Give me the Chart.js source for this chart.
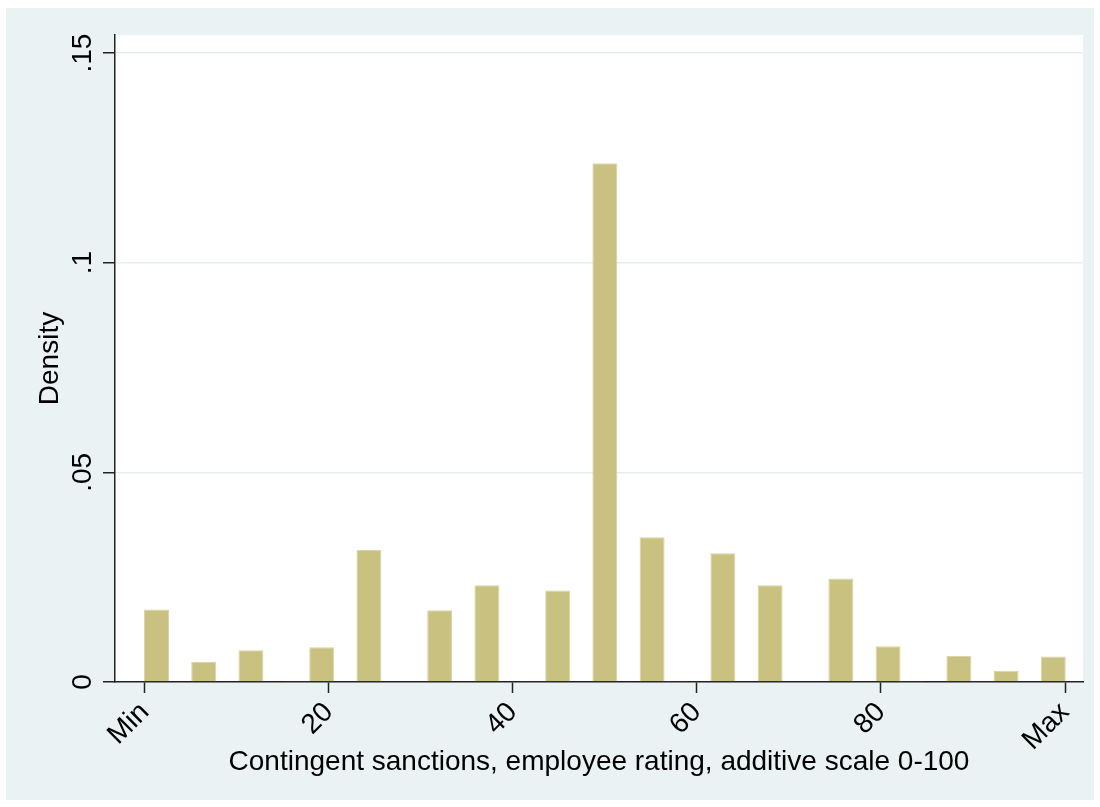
<!DOCTYPE html>
<html>
<head>
<meta charset="utf-8">
<script src="https://cdn.jsdelivr.net/npm/chart.js@4"></script>
<style>
  html, body { margin: 0; padding: 0; background: #fff; }
  #frame { position: absolute; left: 6px; top: 8px; width: 1088px; height: 792px; background: #eaf2f3; }
  #wrap { position: absolute; left: 0; top: 0; width: 1100px; height: 807px; }
</style>
</head>
<body>
<div id="frame"></div>
<div id="wrap"><canvas id="hist"></canvas></div>
<script>
// histogram bins (midpoints on the 0-100 scale) and their densities
const binMid = [1.28, 6.41, 11.54, 16.67, 19.23, 24.36, 32.05, 37.18, 42.31, 44.87, 50.00,
                55.13, 57.69, 62.82, 67.95, 75.64, 80.77, 83.33, 88.46, 91.03, 93.59, 98.72];
const density = [0.0173, 0.0048, 0.0076, 0.0003, 0.0083, 0.0315, 0.0171, 0.0231, 0.0003, 0.0218, 0.1237,
                 0.0345, 0.0003, 0.0307, 0.0231, 0.0247, 0.0085, 0.0003, 0.0062, 0.0003, 0.0027, 0.0061];

const xTickValues = [0, 20, 40, 60, 80, 100];
const xTickLabels = ['Min', '20', '40', '60', '80', 'Max'];
const yTickValues = [0, 0.05, 0.1, 0.15];
const yTickLabels = ['0', '.05', '.1', '.15'];

const FONT = "'Liberation Sans', Arial, Helvetica, sans-serif";
Chart.defaults.font.family = FONT;
Chart.defaults.color = '#000';

// white plot region inside the light frame
const plotBg = {
  id: 'plotBg',
  beforeDraw(chart) {
    const { ctx, chartArea: a } = chart;
    ctx.save();
    ctx.fillStyle = '#fff';
    ctx.fillRect(a.left, a.top, a.right - a.left, a.bottom - a.top);
    ctx.restore();
  }
};

new Chart(document.getElementById('hist'), {
  type: 'bar',
  data: {
    datasets: [{
      data: binMid.map((x, i) => ({ x: x, y: density[i] })),
      backgroundColor: '#c9c17f',
      borderColor: '#d9d4a4',
      borderWidth: 1,
      borderSkipped: 'bottom',
      barPercentage: 1.06,
      categoryPercentage: 1
    }]
  },
  options: {
    responsive: true,
    maintainAspectRatio: false,
    animation: false,
    layout: { padding: { top: 35, right: 17, left: 0, bottom: 0 } },
    plugins: { legend: { display: false }, tooltip: { enabled: false } },
    scales: {
      x: {
        type: 'linear',
        min: -3.23,
        max: 101.95,
        offset: false,
        afterBuildTicks: s => { s.ticks = xTickValues.map(v => ({ value: v })); },
        afterFit: s => { s.height = 125; },
        grid: { offset: false, drawOnChartArea: false, drawTicks: true, tickLength: 11, tickColor: '#222', tickWidth: 1.5 },
        border: { color: '#222', width: 1.5 },
        ticks: {
          autoSkip: false,
          minRotation: 45,
          maxRotation: 45,
          padding: 3,
          font: { size: 28 },
          callback: (v) => xTickLabels[xTickValues.indexOf(v)]
        },
        title: {
          display: true,
          text: 'Contingent sanctions, employee rating, additive scale 0-100',
          font: { size: 28 },
          padding: { top: 0, bottom: 27.5 }
        }
      },
      y: {
        min: 0,
        max: 0.1543,
        afterBuildTicks: s => { s.ticks = yTickValues.map(v => ({ value: v })); },
        afterFit: s => { s.width = 115; },
        grid: {
          color: ctx => (ctx.tick && ctx.tick.value === 0) ? 'rgba(0,0,0,0)' : '#e4edf0',
          lineWidth: 1.5,
          drawTicks: true,
          tickLength: 12,
          tickColor: '#222',
          tickWidth: 1.5
        },
        border: { color: '#222', width: 1.5 },
        ticks: {
          autoSkip: false,
          minRotation: 90,
          maxRotation: 90,
          crossAlign: 'center',
          padding: 0,
          font: { size: 28 },
          callback: (v) => yTickLabels[yTickValues.indexOf(v)]
        },
        title: {
          display: true,
          text: 'Density',
          font: { size: 28 },
          padding: { top: 33.5, bottom: 0 }
        }
      }
    }
  },
  plugins: [plotBg]
});
</script>
</body>
</html>
